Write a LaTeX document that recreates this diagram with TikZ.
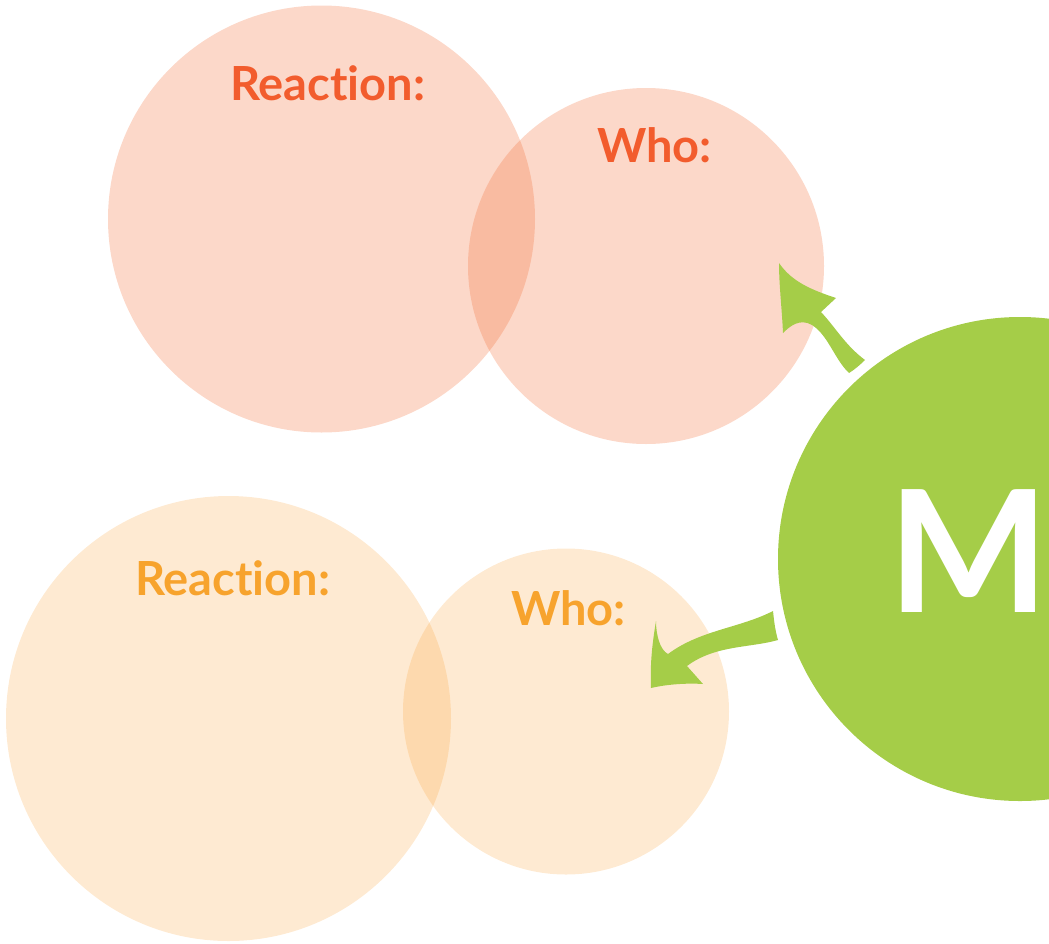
\documentclass[tikz,border=0pt]{standalone}
\usepackage{fontspec}
\setmainfont{Lato}[Ligatures=NoCommon]
\definecolor{redtxt}{RGB}{242,92,45}
\definecolor{redfill}{RGB}{242,100,40}
\definecolor{orgtxt}{RGB}{247,163,45}
\definecolor{orgfill}{RGB}{250,150,30}
\definecolor{mgreen}{RGB}{165,205,72}
\begin{document}
\begin{tikzpicture}[x=1pt,y=-1pt,
  bubble/.style={circle,inner sep=0pt,outer sep=0pt,minimum size=#1},
  redb/.style={fill=redfill,fill opacity=0.25},
  orgb/.style={fill=orgfill,fill opacity=0.2},
  lbl/.style={anchor=base west,inner sep=0pt,font=\bfseries\fontsize{47}{50}\selectfont},
  arrowshape/.style={fill=mgreen,draw=none}]
\useasboundingbox (0,0) rectangle (1049,943);
\clip (0,0) rectangle (1049,943);
% top pair
\node[bubble=427pt,redb] (tl) at (321.5,219) {};
\node[bubble=356pt,redb] (tr) at (646,266) {};
% bottom pair
\node[bubble=445pt,orgb] (bl) at (228.5,718.5) {};
\node[bubble=326pt,orgb] (br) at (566,711.5) {};
% green
\node[bubble=484pt,fill=mgreen] (g) at (1020,559) {};
% labels
\node[lbl,text=redtxt] (t1) at (230,100) {Reaction:};
\node[lbl,text=redtxt] (t2) at (597,162) {Who:};
\node[lbl,text=orgtxt] (t3) at (135,595) {Reaction:};
\node[lbl,text=orgtxt] (t4) at (511,625) {Who:};
\node[anchor=base west,inner sep=0pt,text=white,font=\bfseries\fontsize{170}{170}\selectfont] (m) at (888,612) {M};
% top arrow
\fill[arrowshape] (779,263) .. controls (792,282) and (812,290) .. (836,298)
  -- (821,312) .. controls (836,328) and (845,345) .. (865,360)
  .. controls (860,365) and (854,370) .. (849,373)
  .. controls (835,360) and (828,335) .. (812,325)
  .. controls (800,318) and (790,326) .. (783,333)
  .. controls (782,310) and (779,285) .. (779,263) -- cycle;
% bottom arrow
\fill[arrowshape] (656,621) .. controls (652,645) and (650,665) .. (651,688)
  .. controls (668,684) and (688,683) .. (703,684)
  -- (687,666) .. controls (715,645) and (750,648) .. (778,640)
  .. controls (775,630) and (774,620) .. (773,611)
  .. controls (740,628) and (700,630) .. (668,654)
  .. controls (660,650) and (656,635) .. (656,621) -- cycle;
\end{tikzpicture}
\end{document}
